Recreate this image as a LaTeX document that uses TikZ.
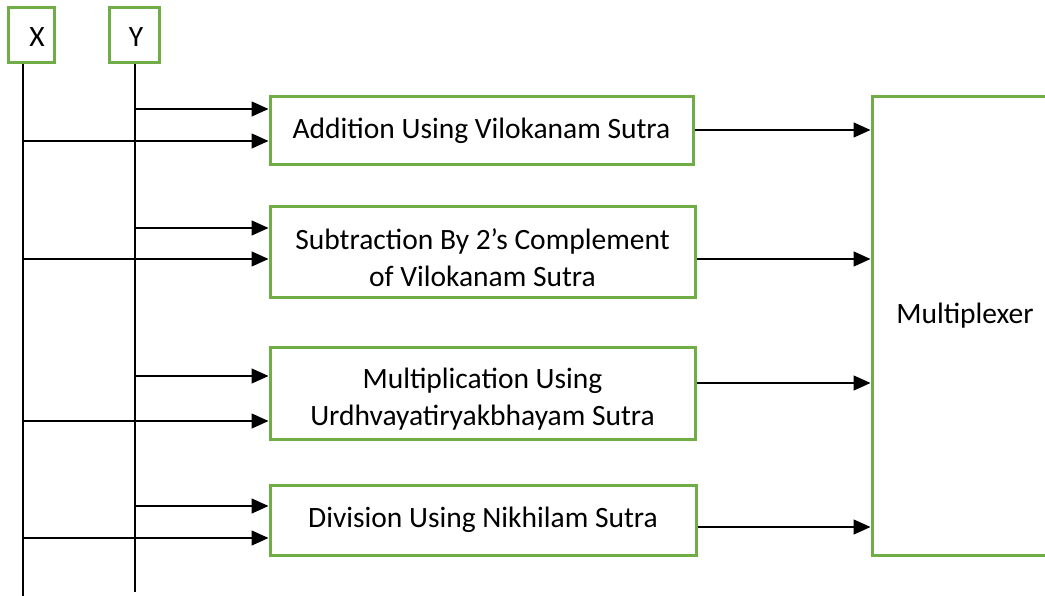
\documentclass[tikz,border=0pt]{standalone}
\usepackage{fontspec}
\setmainfont{Carlito}
\usetikzlibrary{arrows.meta}
\definecolor{boxgreen}{HTML}{70AD47}
% taller first line, to set two-line captions a little lower in their blocks
\newcommand{\tallstart}{\rule{0pt}{32pt}}
\tikzset{
  block/.style={draw=boxgreen, line width=3pt, fill=white, align=center,
    font=\fontsize{29.5}{37}\selectfont, inner sep=0pt},
  label/.style={font=\fontsize{29.5}{37}\selectfont, inner sep=0pt},
  wire/.style={draw=black, line width=1.5pt},
  feed/.style={wire, -{Triangle[length=17pt,width=15pt]}},
}
\begin{document}
\begin{tikzpicture}[x=1pt,y=-1pt]
\useasboundingbox (0,0) rectangle (1045,596);

% operand boxes
\node[block, minimum width=46pt, minimum height=55pt] (X) at (31,35.5) {};
\node[label] (Xl) at (37,37) {X};
\node[block, minimum width=50pt, minimum height=55pt] (Y) at (134,35.5) {};
\node[label] (Yl) at (136,37) {Y};

% operation blocks
\node[block, minimum width=423pt, minimum height=68pt] (add) at (481.5,131)
  {Addition Using Vilokanam Sutra};
\node[block, minimum width=425pt, minimum height=91pt] (sub) at (482.5,252.5)
  {\tallstart Subtraction By 2’s Complement\\of Vilokanam Sutra};
\node[block, minimum width=425pt, minimum height=92pt] (mul) at (482.5,393)
  {\tallstart Multiplication Using\\Urdhvayatiryakbhayam Sutra};
\node[block, minimum width=426pt, minimum height=70pt] (div) at (483,520)
  {Division Using Nikhilam Sutra};

% multiplexer (right side runs past the page edge)
\node[block, minimum width=180pt, minimum height=458pt] (mux) at (962,326) {};
\node[label] (muxl) at (965,316) {Multiplexer};

% operand buses
\coordinate (xend) at (23,596);
\coordinate (yend) at (135,592);
\draw[wire] (X.south -| xend) -- (xend);
\draw[wire] (Y.south -| yend) -- (yend);

% inputs to each block
\foreach \blk/\ya/\yb in {add/109/141, sub/228/259, mul/376/421, div/506/538}{
  \coordinate (\blk-y) at (\blk.west |- 0,\ya);
  \coordinate (\blk-x) at (\blk.west |- 0,\yb);
  \draw[feed] (yend |- \blk-y) -- (\blk-y);
  \draw[feed] (xend |- \blk-x) -- (\blk-x);
}

% outputs to the multiplexer
\foreach \blk/\yo in {add/130, sub/259, mul/383, div/527}{
  \coordinate (\blk-o) at (\blk.east |- 0,\yo);
  \draw[feed] (\blk-o) -- (mux.west |- \blk-o);
}
\end{tikzpicture}
\end{document}
